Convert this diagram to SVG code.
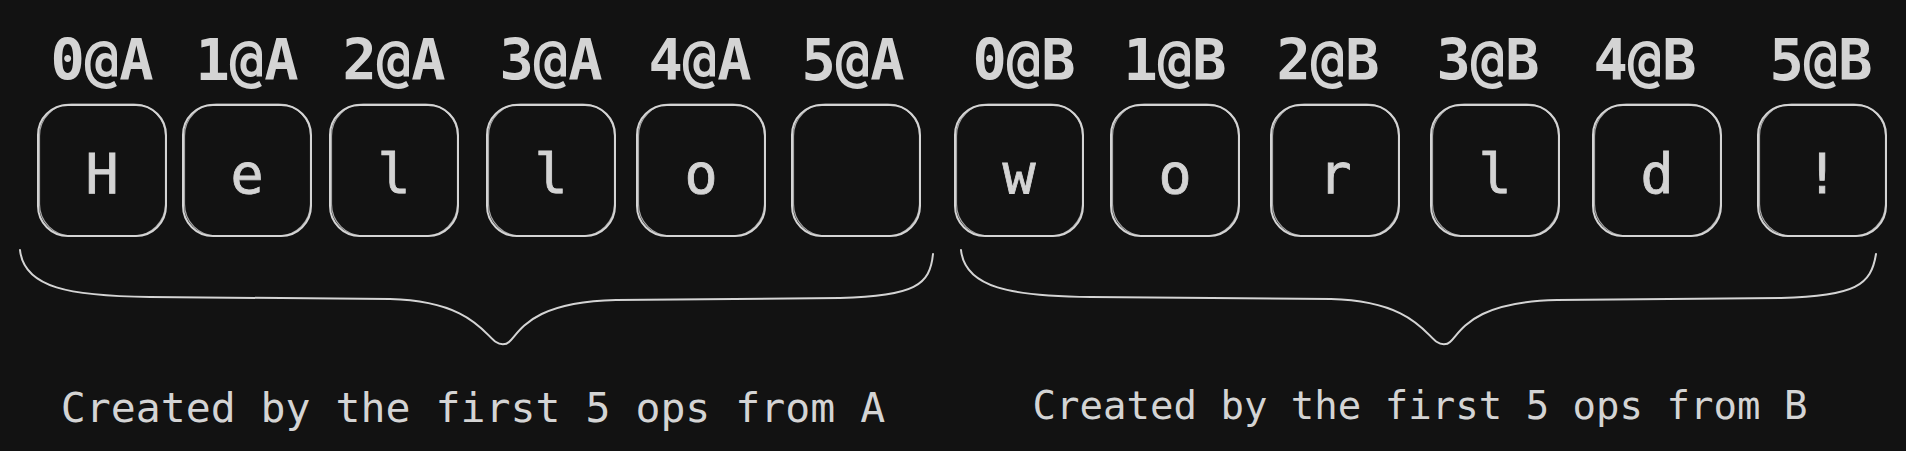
<svg xmlns="http://www.w3.org/2000/svg" width="1906" height="451" viewBox="0 0 1906 451">
<style>
.bg{fill:#121212}
.b1{fill:none;stroke:#d4d4d4;stroke-width:2}
.b2{fill:none;stroke:#d4d4d4;stroke-width:1.2;opacity:0.75}
.lbl{font-family:"DejaVu Sans Mono","Liberation Mono",monospace;font-size:57px;font-weight:bold;fill:#d4d4d4;text-anchor:middle}
.ch{font-family:"DejaVu Sans Mono","Liberation Mono",monospace;font-size:55px;fill:#d4d4d4;stroke:#d4d4d4;stroke-width:0.8;text-anchor:middle}
.cap{font-family:"DejaVu Sans Mono","Liberation Mono",monospace;fill:#d4d4d4;text-anchor:middle}
.br{fill:none;stroke:#d4d4d4;stroke-width:2;stroke-linecap:round}
</style>
<rect class="bg" x="0" y="0" width="1906" height="451"/>
<g id="labels">
<text class="lbl" x="102" y="80">0@A</text>
<text class="lbl" x="247" y="80">1@A</text>
<text class="lbl" x="394" y="80">2@A</text>
<text class="lbl" x="551" y="80">3@A</text>
<text class="lbl" x="700" y="80">4@A</text>
<text class="lbl" x="853" y="80">5@A</text>
<text class="lbl" x="1024" y="80">0@B</text>
<text class="lbl" x="1175" y="80">1@B</text>
<text class="lbl" x="1328" y="80">2@B</text>
<text class="lbl" x="1488" y="80">3@B</text>
<text class="lbl" x="1645" y="80">4@B</text>
<text class="lbl" x="1821" y="80">5@B</text>
</g>
<g id="nA0"><rect class="b1" x="38" y="105" width="128" height="131" rx="30"/><rect class="b2" x="39.5" y="104" width="126" height="132" rx="32"/><text class="ch" x="102" y="193">H</text></g>
<g id="nA1"><rect class="b1" x="183" y="105" width="128" height="131" rx="30"/><rect class="b2" x="184.5" y="104" width="126" height="132" rx="32"/><text class="ch" x="247" y="193">e</text></g>
<g id="nA2"><rect class="b1" x="330" y="105" width="128" height="131" rx="30"/><rect class="b2" x="331.5" y="104" width="126" height="132" rx="32"/><text class="ch" x="394" y="193">l</text></g>
<g id="nA3"><rect class="b1" x="487" y="105" width="128" height="131" rx="30"/><rect class="b2" x="488.5" y="104" width="126" height="132" rx="32"/><text class="ch" x="551" y="193">l</text></g>
<g id="nA4"><rect class="b1" x="637" y="105" width="128" height="131" rx="30"/><rect class="b2" x="638.5" y="104" width="126" height="132" rx="32"/><text class="ch" x="701" y="193">o</text></g>
<g id="nA5"><rect class="b1" x="792" y="105" width="128" height="131" rx="30"/><rect class="b2" x="793.5" y="104" width="126" height="132" rx="32"/></g>
<g id="nB0"><rect class="b1" x="955" y="105" width="128" height="131" rx="30"/><rect class="b2" x="956.5" y="104" width="126" height="132" rx="32"/><text class="ch" x="1019" y="193">w</text></g>
<g id="nB1"><rect class="b1" x="1111" y="105" width="128" height="131" rx="30"/><rect class="b2" x="1112.5" y="104" width="126" height="132" rx="32"/><text class="ch" x="1175" y="193">o</text></g>
<g id="nB2"><rect class="b1" x="1271" y="105" width="128" height="131" rx="30"/><rect class="b2" x="1272.5" y="104" width="126" height="132" rx="32"/><text class="ch" x="1335" y="193">r</text></g>
<g id="nB3"><rect class="b1" x="1431" y="105" width="128" height="131" rx="30"/><rect class="b2" x="1432.5" y="104" width="126" height="132" rx="32"/><text class="ch" x="1495" y="193">l</text></g>
<g id="nB4"><rect class="b1" x="1593" y="105" width="128" height="131" rx="30"/><rect class="b2" x="1594.5" y="104" width="126" height="132" rx="32"/><text class="ch" x="1657" y="193">d</text></g>
<g id="nB5"><rect class="b1" x="1758" y="105" width="128" height="131" rx="30"/><rect class="b2" x="1759.5" y="104" width="126" height="132" rx="32"/><text class="ch" x="1822" y="193">!</text></g>
<g id="connectors">
<path class="br" d="M20,250 C24,288 70,296 150,297 L390,299 C470,301 485,335 496,342 C500,345 506,345 509,342 C520,332 530,302 616,300 L840,298 C915,296 930,285 933,254"/>
<path class="br" d="M961,250 C965,288 1011,296 1091,297 L1331,299 C1411,301 1426,335 1437,342 C1441,345 1447,345 1450,342 C1461,332 1471,302 1557,300 L1781,298 C1856,296 1871,285 1876,254"/>
</g>
<g id="captions">
<text class="cap" x="473" y="422" font-size="41.5">Created by the first 5 ops from A</text>
<text class="cap" x="1420" y="419" font-size="39">Created by the first 5 ops from B</text>
</g>
</svg>
